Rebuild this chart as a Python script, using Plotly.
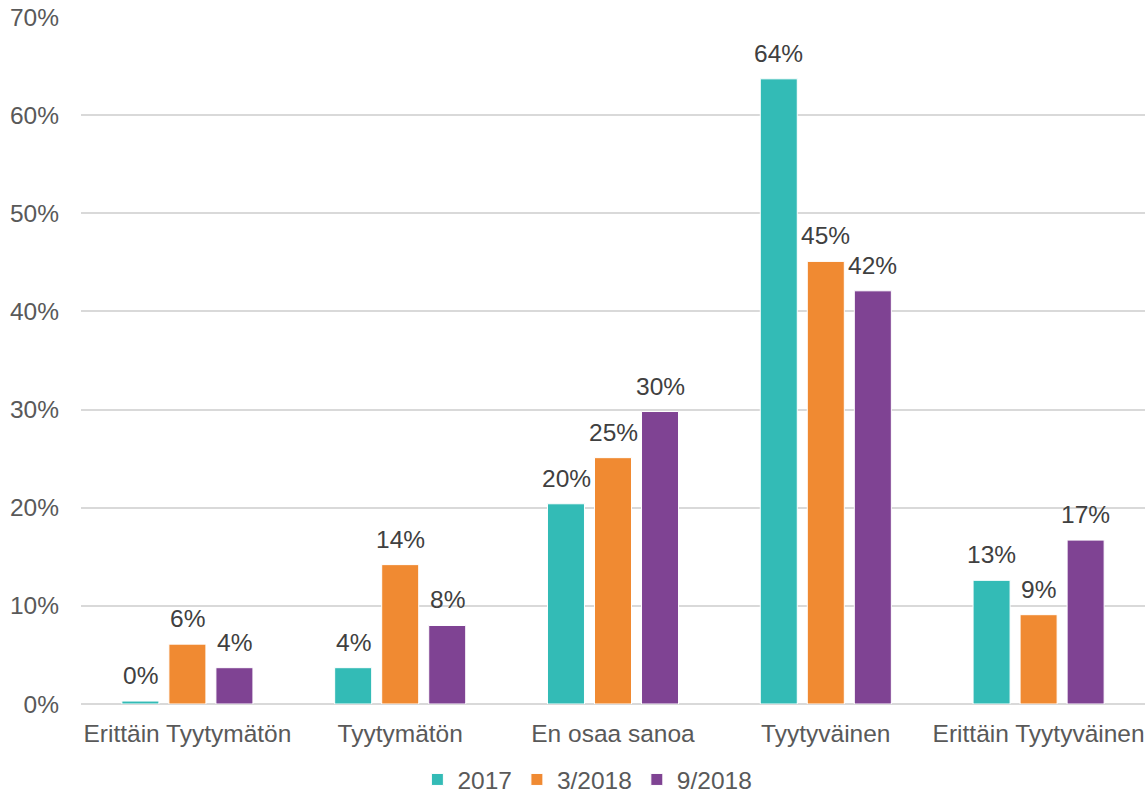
import plotly.graph_objects as go

categories = ["Erittäin Tyytymätön", "Tyytymätön", "En osaa sanoa", "Tyytyväinen", "Erittäin Tyytyväinen"]
series_names = ["2017", "3/2018", "9/2018"]
values_2017 = [0.003, 0.037, 0.204, 0.637, 0.126]
values_3_2018 = [0.061, 0.142, 0.251, 0.451, 0.091]
values_9_2018 = [0.037, 0.080, 0.298, 0.421, 0.167]
colors = ["#33BBB6", "#F08A32", "#7F4393"]
y_ticks = [0, 0.1, 0.2, 0.3, 0.4, 0.5, 0.6, 0.7]
y_tick_labels = ["0%", "10%", "20%", "30%", "40%", "50%", "60%", "70%"]

FONT = "Liberation Sans, Arial, sans-serif"
FS = 24.5

fig = go.Figure()
all_vals = [values_2017, values_3_2018, values_9_2018]
for name, vals, col in zip(series_names, all_vals, colors):
    fig.add_trace(go.Bar(
        x=categories, y=vals, name=name,
        marker=dict(color=col, line=dict(color="white", width=1)),
    ))

# data labels placed above each bar
slot_px = 47
for i, vals in enumerate(all_vals):
    for cat, v in zip(categories, vals):
        fig.add_annotation(
            x=cat, y=v, text=f"{round(v * 100):.0f}%", showarrow=False,
            xshift=(i - 1) * slot_px, yshift=10, yanchor="bottom",
            font=dict(family=FONT, size=FS, color="#404040"),
        )

fig.update_layout(
    width=1145, height=793,
    margin=dict(l=81, r=0, t=17, b=89),
    paper_bgcolor="white", plot_bgcolor="white",
    barmode="group", bargap=0.337, bargroupgap=0.213,
    font=dict(family=FONT, size=FS, color="#595959"),
    showlegend=True,
    legend=dict(orientation="h", xref="container", x=0.513, xanchor="center",
                yref="container", y=0.017, yanchor="middle",
                font=dict(family=FONT, size=FS, color="#595959"),
                itemwidth=30, traceorder="normal"),
)
fig.update_xaxes(showgrid=False, showline=False, ticks="", ticklabelstandoff=12,
                 tickfont=dict(family=FONT, size=FS, color="#595959"))
fig.update_yaxes(range=[0, 0.7], tickvals=y_ticks, ticktext=y_tick_labels,
                 showgrid=True, gridcolor="#D9D9D9", gridwidth=1.5,
                 zeroline=True, zerolinecolor="#D9D9D9", zerolinewidth=1.5,
                 showline=False, ticks="", ticklabelstandoff=21,
                 tickfont=dict(family=FONT, size=FS, color="#595959"))

fig.write_html("out.html")
